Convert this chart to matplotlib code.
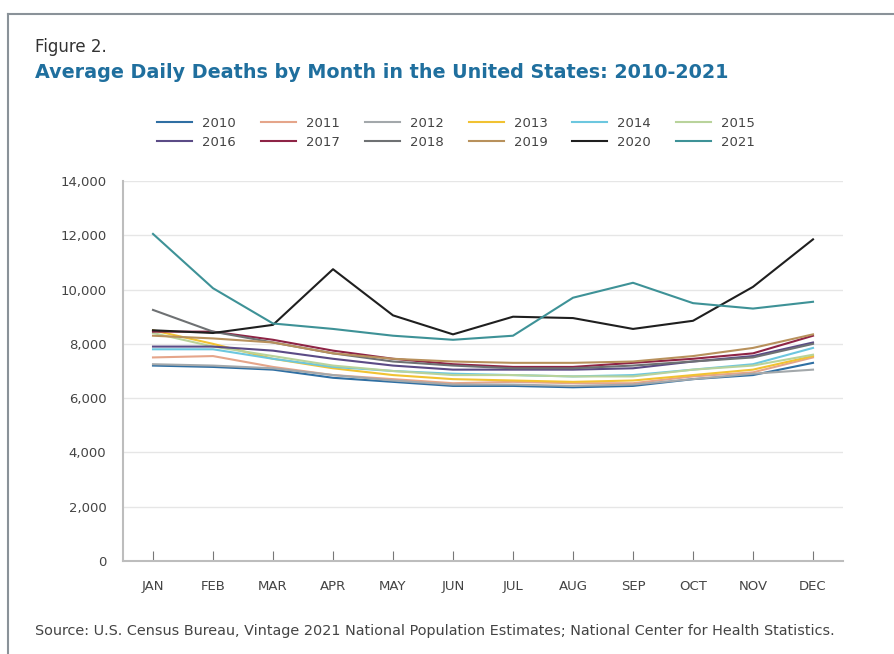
import numpy as np
import matplotlib.pyplot as plt
from matplotlib.lines import Line2D

# ==========================================
# Dados (mortes diárias médias por mês)
# ==========================================
months = ['JAN', 'FEB', 'MAR', 'APR', 'MAY', 'JUN',
          'JUL', 'AUG', 'SEP', 'OCT', 'NOV', 'DEC']

years = ['2010', '2011', '2012', '2013', '2014', '2015',
         '2016', '2017', '2018', '2019', '2020', '2021']

d2010 = [7200, 7150, 7050, 6750, 6600, 6450, 6450, 6400, 6450, 6700, 6850, 7300]
d2011 = [7500, 7550, 7150, 6850, 6700, 6550, 6600, 6550, 6550, 6800, 6950, 7500]
d2012 = [7250, 7200, 7100, 6850, 6650, 6500, 6500, 6450, 6500, 6700, 6900, 7050]
d2013 = [8500, 8000, 7450, 7100, 6850, 6700, 6650, 6600, 6650, 6850, 7050, 7550]
d2014 = [7800, 7800, 7450, 7150, 7000, 6900, 6850, 6800, 6850, 7050, 7250, 7850]
d2015 = [8400, 7900, 7550, 7200, 7000, 6850, 6850, 6800, 6800, 7050, 7200, 7600]
d2016 = [7900, 7900, 7750, 7450, 7200, 7050, 7050, 7050, 7100, 7350, 7550, 8050]
d2017 = [8450, 8450, 8150, 7750, 7450, 7250, 7150, 7150, 7300, 7450, 7650, 8300]
d2018 = [9250, 8450, 8050, 7650, 7350, 7200, 7100, 7100, 7200, 7350, 7500, 8000]
d2019 = [8300, 8200, 8050, 7650, 7450, 7350, 7300, 7300, 7350, 7550, 7850, 8350]
d2020 = [8500, 8400, 8700, 10750, 9050, 8350, 9000, 8950, 8550, 8850, 10100, 11850]
d2021 = [12050, 10050, 8750, 8550, 8300, 8150, 8300, 9700, 10250, 9500, 9300, 9550]

series = [d2010, d2011, d2012, d2013, d2014, d2015,
          d2016, d2017, d2018, d2019, d2020, d2021]

colors = ['#2f6fa3', '#e5a58a', '#a3a8ab', '#f1c232', '#6cc7df', '#b9d39b',
          '#5b4b86', '#8e2446', '#6e7173', '#b8915c', '#1f1f1f', '#3e9297']

# ==========================================
# Figura
# ==========================================
fig = plt.figure(figsize=(8.94, 6.54), dpi=100)
ax = fig.add_axes([123/894, 1 - 561/654, (843 - 123)/894, (561 - 181)/654])

x = np.arange(len(months))
lines = []
for i, (ano, vals) in enumerate(zip(years, series)):
    z = 3 if ano in ('2020', '2021') else 2
    ln, = ax.plot(x, vals, color=colors[i], lw=1.5, label=ano, zorder=z)
    lines.append(ln)

ax.set_xlim(-0.5, 11.5)
ax.set_ylim(0, 14000)
ax.set_yticks(np.arange(0, 14001, 2000))
ax.set_yticklabels([f'{v:,}' for v in range(0, 14001, 2000)])
ax.set_xticks(x)
ax.set_xticklabels(months)
ax.grid(axis='y', color='#e6e6e6', lw=1)
ax.set_axisbelow(True)
for s in ['top', 'right']:
    ax.spines[s].set_visible(False)
ax.spines['left'].set_color('#bdbdbd')
ax.spines['bottom'].set_color('#bdbdbd')
ax.spines['left'].set_linewidth(1.5)
ax.spines['bottom'].set_linewidth(1.5)
ax.tick_params(axis='x', direction='in', length=7, color='#777777', pad=14,
               labelsize=9.5, labelcolor='#444444')
ax.tick_params(axis='y', length=0, pad=12, labelsize=9.5, labelcolor='#444444')

# legenda: ordem por linhas (2 linhas x 6 colunas)
order = []
for j in range(6):
    order += [j, j + 6]
fig.legend([lines[k] for k in order], [years[k] for k in order],
           ncol=6, loc='center', bbox_to_anchor=(456/894, 1 - 133/654),
           frameon=False, fontsize=9.5, handlelength=2.65, handletextpad=0.76,
           columnspacing=1.9, labelspacing=0.45, labelcolor='#444444')

# títulos
fig.text(35/894, 1 - 47/654, 'Figure 2.', fontsize=12, color='#333333', va='center')
fig.text(35/894, 1 - 72/654, 'Average Daily Deaths by Month in the United States: 2010-2021',
         fontsize=13.8, color='#1f6f9e', fontweight='bold', va='center')
fig.text(35/894, 1 - 631/654,
         'Source: U.S. Census Bureau, Vintage 2021 National Population Estimates; '
         'National Center for Health Statistics.',
         fontsize=10.4, color='#444444', va='center')

# moldura
fig.add_artist(Line2D([8/894, 8/894], [0, 1 - 14/654], color='#8a9299', lw=1.5))
fig.add_artist(Line2D([8/894, 1], [1 - 14/654, 1 - 14/654], color='#8a9299', lw=1.5))

plt.savefig('out.png', dpi=100)
